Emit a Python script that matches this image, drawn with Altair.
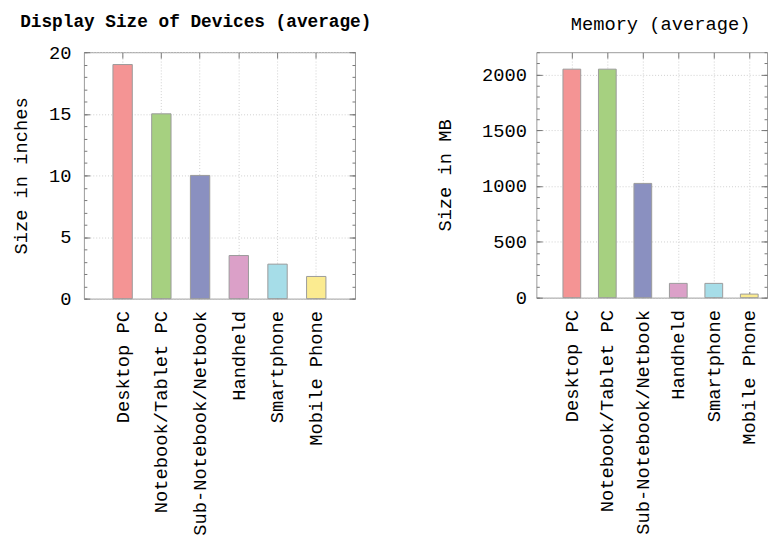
import altair as alt
import pandas as pd

devices = ["Desktop PC", "Notebook/Tablet PC", "Sub-Notebook/Netbook",
           "Handheld", "Smartphone", "Mobile Phone"]
display_sizes = [19, 15, 10, 3.5, 2.8, 1.8]
memory_mb = [2048, 2048, 1024, 128, 128, 32]
colors = ["#f49494", "#a6d080", "#8a90c0", "#dba0c8", "#a6dde8", "#fbeb90"]

display_major = [0, 5, 10, 15, 20]
display_minor = list(range(0, 21))
memory_major = [0, 500, 1000, 1500, 2000]
memory_minor = list(range(0, 2201, 100))

FONT = "Liberation Mono"
FS = 19
TICK = "#777777"


def panel(values, ymax, major, minor, ytitle, title, W, H, bold, toff, tdx,
          ytitle_pad, ylabel_pad, pad_outer, align):
    df = pd.DataFrame({"device": devices, "value": values})
    xs = alt.Scale(domain=devices, paddingInner=0.5, paddingOuter=pad_outer,
                   align=align)
    ys = alt.Scale(domain=[0, ymax], nice=False, zero=True)
    base = alt.Chart(df)

    bars = base.mark_bar(stroke="#9a9a9a", strokeWidth=1).encode(
        x=alt.X("device:N", scale=xs, sort=devices,
                axis=alt.Axis(title=None, labelAngle=-90, labelAlign="right",
                              labelBaseline="middle", ticks=False, domain=False,
                              grid=True, gridDash=[1, 2], gridColor="#cfcfcf",
                              labelPadding=12, labelFont=FONT, labelFontSize=FS,
                              labelColor="#000", labelLimit=0)),
        y=alt.Y("value:Q", scale=ys,
                axis=alt.Axis(values=major, format="d", title=ytitle,
                              ticks=False, domain=False, grid=True,
                              gridDash=[1, 2], gridColor="#cfcfcf",
                              labelPadding=ylabel_pad, labelFont=FONT,
                              labelFontSize=FS, labelColor="#000",
                              titleFont=FONT, titleFontSize=FS,
                              titleFontWeight="normal", titleColor="#000",
                              titlePadding=ytitle_pad)),
        color=alt.Color("device:N", scale=alt.Scale(domain=devices, range=colors),
                        legend=None),
    )

    def ytick(orient, vals, size):
        return base.mark_point(opacity=0).encode(
            x=alt.X("device:N", scale=xs, sort=devices, axis=None),
            y=alt.Y("value:Q", scale=ys,
                    axis=alt.Axis(orient=orient, offset=-W, values=vals,
                                  tickSize=size, tickColor=TICK, labels=False,
                                  title=None, domain=False, grid=False)))

    def xtick(orient):
        return base.mark_point(opacity=0).encode(
            x=alt.X("device:N", scale=xs, sort=devices,
                    axis=alt.Axis(orient=orient, offset=-H, tickSize=6,
                                  tickColor=TICK, labels=False, title=None,
                                  domain=False, grid=False)),
            y=alt.Y("value:Q", scale=ys, axis=None))

    layers = [bars,
              ytick("right", major, 6), ytick("right", minor, 3),
              ytick("left", major, 6), ytick("left", minor, 3),
              xtick("bottom"), xtick("top")]

    return alt.layer(*layers).resolve_axis(x="independent", y="independent").properties(
        width=W, height=H,
        title=alt.TitleParams(title, font=FONT, fontSize=FS - 1 if bold else FS,
                              fontWeight="bold" if bold else "normal",
                              color="#000", anchor="middle", dx=tdx,
                              offset=toff),
    )


left = panel(display_sizes, 20, display_major, display_minor, "Size in inches",
             "Display Size of Devices (average)", 275, 250, True, 13, -24, 18, 13,
             0.75, 0.5)
right = panel(memory_mb, 2200, memory_major, memory_minor, "Size in MB",
              "Memory (average)", 234, 249, False, 18, 9, 27, 10, 0.5, 0.75)

chart = alt.hconcat(left, right, spacing=63).configure_view(
    stroke="#9a9a9a", strokeWidth=1
).properties(padding={"top": 0, "left": 3, "right": 0, "bottom": 0})

chart.save("out.html", embed_options={"renderer": "svg", "actions": False})
